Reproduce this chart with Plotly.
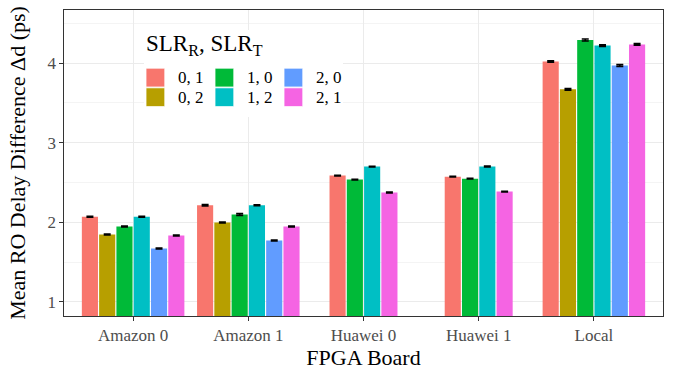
import plotly.graph_objects as go

# ---- data ----
boards = ["Amazon 0", "Amazon 1", "Huawei 0", "Huawei 1", "Local"]
series_names = ["0, 1", "0, 2", "1, 0", "1, 2", "2, 0", "2, 1"]
colors = ["#F8766D", "#B79F00", "#00BA38", "#00BFC4", "#619CFF", "#F564E3"]

s01 = [2.070, 2.213, 2.586, 2.572, 4.020]
s02 = [1.846, 1.996, None, None, 3.670]
s10 = [1.946, 2.097, 2.536, 2.548, 4.290]
s12 = [2.070, 2.213, 2.699, 2.700, 4.220]
s20 = [1.670, 1.770, None, None, 3.970]
s21 = [1.833, 1.946, 2.373, 2.385, 4.235]

e01 = [0.005, 0.008, 0.004, 0.004, 0.008]
e02 = [0.005, 0.005, None, None, 0.010]
e10 = [0.005, 0.012, 0.004, 0.004, 0.012]
e12 = [0.005, 0.006, 0.005, 0.005, 0.010]
e20 = [0.005, 0.005, None, None, 0.012]
e21 = [0.005, 0.005, 0.005, 0.005, 0.010]

values = [s01, s02, s10, s12, s20, s21]
errors = [e01, e02, e10, e12, e20, e21]

y_ticks = [1, 2, 3, 4]

# ---- layout constants ----
W, H = 677, 371
ML, MR, MT, MB = 64, 14, 10, 55
PW, PH = W - ML - MR, H - MT - MB
FONT = "Liberation Serif"
slot = 0.15
barw = 0.14

def px(x):
    return (x - ML) / PW

def py(y):
    return (H - MB - y) / PH

fig = go.Figure()

for si, (name, col, vals, errs) in enumerate(zip(series_names, colors, values, errors)):
    offs = []
    for bi in range(len(boards)):
        present = [k for k in range(len(series_names)) if values[k][bi] is not None]
        if vals[bi] is None:
            offs.append(0)
            continue
        n = len(present)
        k = present.index(si)
        offs.append((k - n / 2) * slot + (slot - barw) / 2)
    fig.add_trace(go.Bar(
        x=boards, y=vals, name=name,
        marker=dict(color=col, line=dict(width=0)),
        width=barw, offset=offs,
        error_y=dict(type="data", array=[e if e is not None else 0 for e in errs],
                     color="black", thickness=1.6, width=3.5),
        showlegend=False,
    ))

fig.update_layout(
    width=W, height=H,
    margin=dict(l=ML, r=MR, t=MT, b=MB, autoexpand=False),
    paper_bgcolor="white", plot_bgcolor="white",
    barmode="overlay",
    font=dict(family=FONT, color="black"),
    showlegend=False,
)

fig.update_xaxes(
    type="category", range=[-0.6, 4.6],
    showgrid=True, gridcolor="#EBEBEB", gridwidth=1.1,
    showline=True, mirror=True, linecolor="#333333", linewidth=1.2,
    ticks="outside", ticklen=3.5, tickcolor="#333333", tickwidth=1.1,
    tickfont=dict(family=FONT, size=17, color="#4D4D4D"),
    title=dict(text="FPGA Board", font=dict(family=FONT, size=22, color="black"), standoff=0),
    automargin=False,
)
fig.update_yaxes(
    range=[0.822, 4.667],
    tickvals=y_ticks, ticktext=[str(v) for v in y_ticks],
    showgrid=True, gridcolor="#EBEBEB", gridwidth=1.1,
    minor=dict(dtick=0.5, tick0=0.5, showgrid=True, gridcolor="#F4F4F4", gridwidth=0.6),
    showline=True, mirror=True, linecolor="#333333", linewidth=1.2,
    ticks="outside", ticklen=3.5, tickcolor="#333333", tickwidth=1.1,
    tickfont=dict(family=FONT, size=17, color="#4D4D4D"),
    title=dict(text="Mean RO Delay Difference Δd (ps)", font=dict(family=FONT, size=22, color="black"), standoff=15),
    zeroline=False, automargin=False,
)

# ---- manual legend (ggplot style, column-major 3x2) ----
shapes = [dict(type="rect", xref="paper", yref="paper", layer="above",
               x0=px(144), x1=px(343), y0=py(117), y1=py(30),
               fillcolor="white", line=dict(width=0))]
annotations = [dict(xref="paper", yref="paper", x=px(144), y=py(45),
                    xanchor="left", yanchor="middle", showarrow=False,
                    text="SLR<sub>R</sub>, SLR<sub>T</sub>",
                    font=dict(family=FONT, size=23, color="black"))]
key = 18.8
col_x = [146, 215, 284]
row_y = [68.2, 87.8]
for i, (name, col) in enumerate(zip(series_names, colors)):
    c, r = divmod(i, 2)
    x0, y0 = col_x[c], row_y[r]
    shapes.append(dict(type="rect", xref="paper", yref="paper", layer="above",
                       x0=px(x0), x1=px(x0 + key), y0=py(y0 + key), y1=py(y0),
                       fillcolor=col, line=dict(color="white", width=0.8)))
    annotations.append(dict(xref="paper", yref="paper", x=px(x0 + 30), y=py(y0 + key / 2),
                            xanchor="left", yanchor="middle", showarrow=False,
                            text=name, font=dict(family=FONT, size=17, color="black")))

fig.update_layout(shapes=shapes, annotations=annotations)
fig.write_html("out.html", config={"displayModeBar": False},
               post_script="document.body.style.margin='0';")
